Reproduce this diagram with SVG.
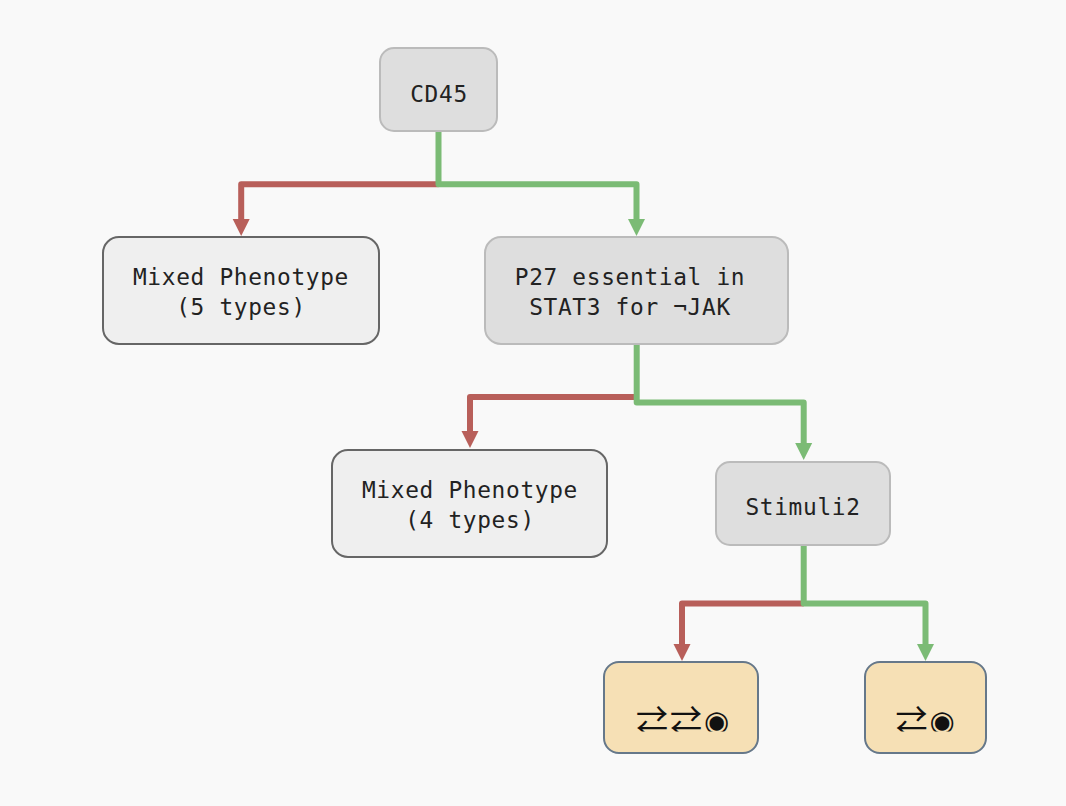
<svg xmlns="http://www.w3.org/2000/svg" width="1066" height="806" viewBox="0 0 1066 806">
<defs>
<style>
.t{font-family:"DejaVu Sans Mono","Liberation Mono",monospace;font-size:22.8px;letter-spacing:.68px;fill:#222;text-anchor:middle}
.s{font-family:"Noto Sans CJK JP","Noto Sans CJK SC",sans-serif;font-size:32px;letter-spacing:2px;fill:#111}
.d{font-family:"DejaVu Sans",sans-serif;font-size:29px}
.g{fill:#dedede;stroke:#bbb;stroke-width:2}
.l{fill:#efefef;stroke:#666;stroke-width:2}
.o{fill:#f6e0b5;stroke:#66788a;stroke-width:2}
.r{fill:none;stroke:#b85f5a;stroke-width:6;stroke-linejoin:round}
.v{fill:none;stroke:#7bbb75;stroke-width:6;stroke-linejoin:round}
</style>
<marker id="ar" markerUnits="userSpaceOnUse" markerWidth="18" markerHeight="18" refX="7" refY="9" orient="auto"><path d="M0 0.500L17 9L0 17.500Z" fill="#b85f5a"/></marker>
<marker id="av" markerUnits="userSpaceOnUse" markerWidth="18" markerHeight="18" refX="7" refY="9" orient="auto"><path d="M0 0.500L17 9L0 17.500Z" fill="#7bbb75"/></marker>
<clipPath id="c"><rect x="600" y="690" width="390" height="41.500"/></clipPath>
</defs>
<rect width="1066" height="806" fill="#f9f9f9"/>
<g id="connectors">
<path class="r" d="M438.500 184.200H241.200V226" marker-end="url(#ar)"/>
<path class="v" d="M438.500 131V184.200H636.500V226" marker-end="url(#av)"/>
<path class="r" d="M636.700 397H470V438" marker-end="url(#ar)"/>
<path class="v" d="M636.700 344V402.500H803.700V450" marker-end="url(#av)"/>
<path class="r" d="M803.700 603.500H682V651" marker-end="url(#ar)"/>
<path class="v" d="M803.700 545V603.500H925.500V651" marker-end="url(#av)"/>
</g>
<g id="n1"><rect class="g" x="380" y="48" width="117" height="83" rx="14"/><text class="t" x="439" y="101.500">CD45</text></g>
<g id="n2"><rect class="l" x="103" y="237" width="276" height="107" rx="16"/><text class="t" x="241" y="285">Mixed Phenotype</text><text class="t" x="241" y="314.500">(5 types)</text></g>
<g id="n3"><rect class="g" x="485" y="237" width="303" height="107" rx="16"/><text class="t" x="630" y="285">P27 essential in</text><text class="t" x="630" y="314.500">STAT3 for ¬JAK</text></g>
<g id="n4"><rect class="l" x="332" y="450" width="275" height="107" rx="16"/><text class="t" x="470" y="497.500">Mixed Phenotype</text><text class="t" x="470" y="527.500">(4 types)</text></g>
<g id="n5"><rect class="g" x="716" y="462" width="174" height="83" rx="14"/><text class="t" x="803" y="515">Stimuli2</text></g>
<g id="n6"><rect class="o" x="604" y="662" width="154" height="91" rx="15"/><text class="s" x="636" y="732.500" clip-path="url(#c)">⇄⇄<tspan class="d" x="704" y="731">◉</tspan></text></g>
<g id="n7"><rect class="o" x="865" y="662" width="121" height="91" rx="15"/><text class="s" x="895.500" y="732.500" clip-path="url(#c)">⇄<tspan class="d" x="929.500" y="731">◉</tspan></text></g>
</svg>
